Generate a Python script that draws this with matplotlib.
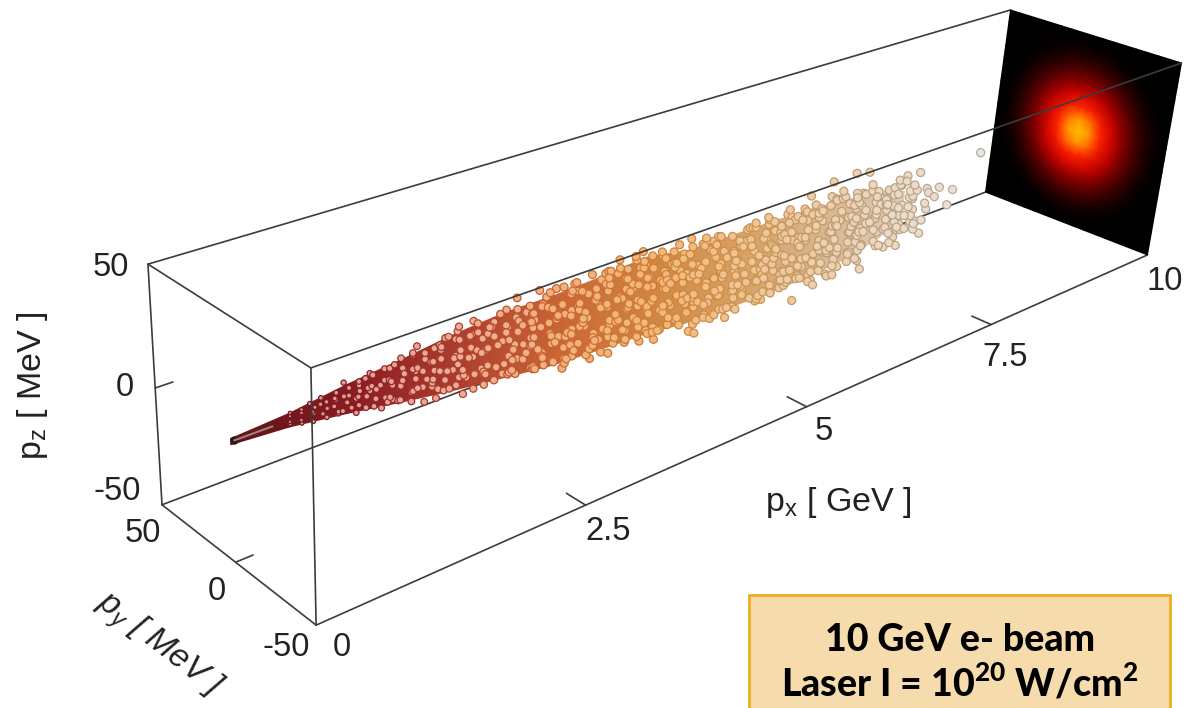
import numpy as np
import matplotlib
matplotlib.use("Agg")
import matplotlib.pyplot as plt
from matplotlib.colors import LinearSegmentedColormap, Normalize
from matplotlib.patches import Rectangle

plt.rcParams["font.family"] = ["Liberation Sans", "DejaVu Sans"]
plt.rcParams["mathtext.fontset"] = "custom"
plt.rcParams["mathtext.rm"] = "Liberation Sans"
plt.rcParams["mathtext.it"] = "Liberation Sans:italic"
plt.rcParams["mathtext.bf"] = "Lato:black"

# box limits and ticks
px_lim = [0, 10]
py_lim = [-50, 50]
pz_lim = [-50, 50]
px_ticks = [2.5, 5, 7.5]
py_ticks = [0]
pz_ticks = [0]

# electrons (px in GeV, pz in MeV)
beam_px = [0.5, 0.6, 0.7, 0.8, 0.9, 1.0, 1.1, 1.2, 1.3, 1.4,
           1.5, 1.6, 1.7, 1.8, 1.9, 2.0, 2.1, 2.2, 2.3, 2.4,
           2.5, 2.6, 2.7, 2.8, 2.9, 3.0, 3.1, 3.2, 3.3, 3.4,
           3.5, 3.6, 3.7, 3.8, 3.9, 4.0, 4.1, 4.2, 4.3, 4.4,
           4.5, 4.6, 4.7, 4.8, 4.9, 5.0, 5.1, 5.2, 5.3, 5.4,
           5.5, 5.6, 5.7, 5.8, 5.9, 6.0, 6.1, 6.2, 6.3, 6.4,
           6.5, 6.6, 6.7, 6.8, 6.9, 7.0, 7.1, 7.2, 7.3, 7.4,
           7.5, 7.6, 7.76, 7.82, 7.97, 8.03, 8.4]
beam_pz = [
    [-2.1, -0.3, 1.4, 2.2],
    [-2.8, -1.0, 0.7, 2.5],
    [-3.4, -1.7, -0.2, 1.6, 3.2],
    [-4.2, -2.4, -0.8, 0.9, 2.6, 4.0],
    [-4.9, -3.0, -1.2, 0.5, 2.3, 3.9, 5.0],
    [-5.6, -3.6, -1.4, 0.4, 2.4, 4.3, 5.8],
    [-6.3, -4.1, -2.2, -0.1, 1.9, 3.7, 6.0],
    [-7.0, -4.8, -2.5, -0.6, 1.6, 3.2, 5.1, 6.9],
    [-7.6, -5.3, -3.1, -1.0, 1.2, 3.4, 5.6, 7.8],
    [-8.5, -6.1, -3.6, -1.3, 0.9, 3.0, 5.8, 8.1],
    [-9.1, -6.4, -3.9, -1.6, 1.1, 3.5, 6.2, 9.2],
    [-9.9, -7.2, -4.5, -2.0, 0.6, 2.9, 5.4, 7.7, 9.8],
    [-10.8, -7.9, -5.2, -2.4, 0.2, 2.7, 5.9, 8.3, 10.3],
    [-11.2, -8.5, -5.6, -2.9, -0.2, 2.3, 5.0, 8.0, 11.1],
    [-11.9, -8.9, -6.1, -3.3, -0.4, 2.8, 5.7, 8.8, 11.6],
    [-12.6, -9.3, -6.4, -3.0, -0.7, 2.1, 4.9, 7.6, 10.2, 12.8],
    [-13.0, -10.1, -7.0, -3.9, -1.0, 1.8, 4.6, 7.9, 10.9, 13.1],
    [-13.9, -10.6, -7.5, -4.4, -1.5, 1.5, 4.3, 7.2, 10.4, 13.5],
    [-14.2, -11.1, -7.8, -4.9, -1.6, 1.2, 4.8, 8.1, 11.2, 14.3],
    [-14.8, -11.7, -8.3, -5.3, -2.2, 0.9, 4.1, 7.4, 10.6, 14.1],
    [-15.3, -12.0, -8.8, -5.4, -2.6, 0.6, 3.8, 7.0, 10.9, 14.9],
    [-15.6, -12.4, -9.1, -5.9, -2.3, 1.0, 4.4, 7.7, 11.3, 15.2],
    [-15.9, -12.9, -9.4, -6.2, -3.1, 0.2, 3.5, 6.9, 10.1, 13.3, 15.8],
    [-16.2, -13.1, -9.8, -6.6, -3.4, -0.1, 3.2, 6.4, 9.6, 12.8, 16.1],
    [-16.4, -13.5, -10.2, -6.9, -3.0, 0.5, 3.9, 7.3, 10.8, 14.0, 16.3],
    [-16.8, -13.7, -10.5, -7.4, -4.0, -0.6, 2.6, 6.1, 9.3, 12.6, 15.9],
    [-17.0, -14.1, -10.9, -7.5, -4.3, -1.0, 2.4, 5.8, 9.0, 12.4, 15.7, 17.2],
    [-16.6, -13.4, -10.0, -6.8, -3.6, -0.3, 3.1, 6.6, 9.9, 13.4, 16.8],
    [-17.1, -14.2, -11.0, -7.7, -4.6, -1.2, 2.0, 5.3, 8.7, 12.0, 15.3, 17.6],
    [-17.3, -13.9, -10.6, -7.2, -3.9, -0.8, 2.7, 6.2, 9.5, 12.9, 16.2],
    [-17.5, -14.4, -11.2, -8.0, -4.7, -1.5, 1.9, 5.1, 8.4, 11.9, 15.0, 17.9],
    [-17.2, -14.0, -10.7, -7.3, -4.1, -0.5, 2.9, 6.3, 9.8, 13.2, 16.6, 18.3],
    [-17.9, -14.7, -11.4, -8.1, -4.8, -1.7, 1.6, 4.9, 8.2, 11.5, 14.8, 18.0],
    [-18.1, -15.0, -11.8, -8.6, -5.2, -2.0, 1.3, 4.7, 8.0, 11.3, 14.6, 17.7, 19.4],
    [-18.3, -15.2, -12.0, -8.7, -5.5, -2.3, 1.1, 4.4, 7.8, 11.1, 14.5, 17.8, 20.1],
    [-18.6, -15.3, -12.3, -9.0, -5.6, -2.4, 0.8, 4.2, 7.5, 10.8, 14.1, 17.2, 20.6],
    [-21.8, -18.9, -15.7, -12.4, -9.2, -5.9, -2.7, 0.6, 3.9, 7.2, 10.5, 13.8, 16.9],
    [-19.2, -16.0, -12.8, -9.5, -6.2, -3.0, 0.3, 3.6, 6.9, 10.2, 13.5, 16.4],
    [-19.6, -16.4, -13.1, -9.8, -6.5, -3.3, 0.1, 3.4, 6.7, 9.9, 13.2, 15.8],
    [-20.1, -16.8, -13.5, -10.2, -6.9, -3.6, -0.2, 3.0, 6.3, 9.6, 12.9, 15.4],
    [-20.7, -17.2, -14.0, -10.6, -7.3, -4.0, -0.7, 2.6, 5.9, 9.2, 12.6, 15.1],
    [-23.9, -21.0, -17.6, -14.3, -11.0, -7.7, -4.4, -1.1, 2.2, 5.5, 8.8, 12.1, 14.9],
    [-21.4, -18.1, -14.8, -11.5, -8.2, -4.9, -1.6, 1.8, 5.1, 8.4, 11.7, 14.6],
    [-23.1, -20.2, -17.4, -14.1, -10.8, -7.5, -4.2, -0.9, 2.4, 5.7, 9.0, 12.3, 14.8],
    [-21.7, -18.4, -15.2, -11.9, -8.6, -5.3, -2.0, 1.3, 4.6, 7.9, 11.2, 14.4],
    [-22.2, -19.0, -15.6, -12.3, -9.0, -5.7, -2.4, 0.9, 4.2, 7.5, 10.8, 14.1],
    [-21.5, -18.6, -15.3, -12.0, -8.7, -5.4, -2.1, 1.2, 4.5, 7.8, 11.1, 14.7],
    [-22.6, -19.4, -16.1, -12.8, -9.5, -6.2, -2.9, 0.4, 3.7, 7.0, 10.3, 13.6],
    [-22.0, -18.8, -15.5, -12.2, -8.9, -5.6, -2.3, 1.0, 4.3, 7.6, 10.9, 14.2],
    [-22.9, -19.7, -16.4, -13.1, -9.8, -6.5, -3.2, 0.1, 3.4, 6.7, 10.0, 13.3],
    [-22.4, -19.2, -15.9, -12.6, -9.3, -6.0, -2.7, 0.6, 3.9, 7.2, 10.5, 13.8, 15.6],
    [-23.2, -20.0, -16.7, -13.4, -10.1, -6.8, -3.5, -0.2, 3.1, 6.4, 9.7, 13.0],
    [-22.7, -19.5, -16.2, -12.9, -9.6, -6.3, -3.0, 0.3, 3.6, 6.9, 10.2, 13.5, 15.9],
    [-27.2, -23.0, -19.9, -16.6, -13.3, -10.0, -6.7, -3.4, -0.1, 3.2, 6.5, 9.8, 13.1],
    [-22.8, -19.6, -16.3, -13.0, -9.7, -6.4, -3.1, 0.2, 3.5, 6.8, 10.1, 13.4],
    [-23.4, -20.3, -17.0, -13.7, -10.4, -7.1, -3.8, -0.5, 2.8, 6.1, 9.4, 12.7, 15.0],
    [-26.0, -22.5, -19.3, -16.0, -12.7, -9.4, -6.1, -2.8, 0.5, 3.8, 7.1, 10.4, 13.7],
    [-23.0, -20.1, -16.9, -13.6, -10.3, -7.0, -3.7, -0.4, 2.9, 6.2, 9.5, 12.8, 19.5],
    [-29.0, -22.1, -18.9, -15.6, -12.3, -9.0, -5.7, -2.4, 0.9, 4.2, 7.5, 10.8, 14.4],
    [-21.6, -18.5, -15.1, -11.8, -8.5, -5.2, -1.9, 1.4, 4.7, 8.0, 11.3],
    [-22.3, -19.1, -15.8, -12.5, -9.1, -5.8, -2.5, 0.8, 4.1, 7.4, 10.7, 13.9],
    [-21.2, -17.9, -14.6, -11.3, -8.0, -4.7, -1.4, 1.9, 5.2, 8.5, 11.8, 19.0],
    [-20.9, -17.5, -14.2, -10.9, -7.6, -4.3, -1.0, 2.3, 5.6, 8.9, 12.2],
    [-20.4, -17.1, -13.8, -10.5, -7.2, -3.9, -0.6, 2.7, 6.0, 9.3, 18.2],
    [-29.0, -19.8, -16.5, -13.2, -9.9, -6.6, -3.3, 0.0, 3.3, 6.6, 9.9],
    [-19.3, -16.0, -12.7, -9.4, -6.1, -2.8, 0.5, 3.8, 7.1, 10.6],
    [-18.8, -15.4, -12.1, -8.8, -5.5, -2.2, 1.1, 4.4, 7.7],
    [-22.0, -17.7, -14.4, -11.1, -7.8, -4.5, -1.2, 2.1, 5.4, 8.6],
    [-17.2, -13.9, -10.6, -7.3, -4.0, -0.7, 2.6, 5.9, 13.0],
    [-21.0, -16.7, -13.0, -9.7, -6.4, -3.1, 0.2, 3.5, 6.8],
    [-20.5, -15.8, -12.0, -7.0, -2.5, 1.5, 4.6, 7.0],
    [-18.0, -14.2, -7.2, -3.0, 2.8],
    [-6.0], [-2.0], [-13.0], [-6.0], [8.0],
]

# scatter of the dots around their column (px in GeV, py and pz in MeV), estimated by eye
scatter_px = [.03, -.05, .01, .06, -.02, -.07, .04, .00, -.04, .07, -.01, .05, -.06, .02, -.03,
              .08, -.08, .03, -.05, .06, .01, -.02, .05, -.07, .04, -.01, -.06, .07, .02, -.04,
              .00, .06, -.03, -.08, .05, .01, -.05, .03, .07, -.02, -.06, .04, -.01, .08, -.04,
              .02, -.07, .05, .00, -.03, .06, -.05, .01, .04, -.08, .07, -.02, .03, -.06, .05]
scatter_py = [2, -3, 1, 4, -2, -4, 3, 0, -3, 3, 1, -2, 5, -4, 2, -1, 4, -3, 5, -1,
              -5, 2, 3, -3, 1, -2, 4, -4, 1, 3, -4, 0, 4, -2, 2, 4, -4, -1, 3, -3,
              1, -5, 3, 4, -1, -3, 1, 2, -2, 4, -4, 2, 0, -4, 5, -2, 3, -1, -3, 1,
              4, -4, 2, -1, 3, -3, 4, 1, -4, 2, -2, 4, -3]
scatter_pz = [.8, -1.1, .3, 1.4, -.6, -1.6, .9, .1, -1.3, 1.2, -.2, .6, -.9, 1.7, -1.5,
              .4, 1.0, -.7, -1.8, 1.5, .2, -1.0, .7, 1.3, -.4, -1.4, 1.1, .5, -.8, 1.6,
              -1.2, .0, 1.9, -.5, -1.7, .6, 1.2, -.3, -1.1, .9, 1.4, -1.9, .3, -.6, 1.0,
              -1.3, 1.8, .2, -.9, .7, -1.6, 1.1, -.1]

# sag of the beam centre against the box axis
sag_px = [0, 1, 1.5, 2.5, 3.3, 4.5, 6.5, 7.5, 9]
sag_pz = [0, 0, -0.8, -1.5, -3.5, -3, -2, -1, 0]

# outline of the dense part of the beam
env_px = [0, 0.5, 1, 1.5, 2, 2.5, 3, 3.5, 4, 4.5, 5, 5.5, 6, 6.5, 7, 7.3]
env_low = [-1.2, -2.8, -6, -9, -12, -14.5, -16, -16.5, -17.5, -20, -21, -21.5, -21.5, -20, -16, -11]
env_high = [1.2, 2.8, 6, 9, 12, 14, 15, 16.5, 18, 14, 13.5, 13, 12, 10, 7, 3]

# quarter of the intensity on the far wall, centre in the corner, steps of 6.25 MeV
wall_step = 6.25
wall_quarter = [
    [1.0, .86, .50, .30, .155, .07, .027, .007, 0],
    [.86, .71, .44, .28, .14, .065, .025, .006, 0],
    [.50, .44, .33, .21, .11, .05, .018, .004, 0],
    [.30, .28, .21, .13, .07, .032, .01, .002, 0],
    [.155, .14, .11, .07, .04, .016, .005, 0, 0],
    [.07, .065, .05, .032, .016, .006, 0, 0, 0],
    [.027, .025, .018, .01, .005, 0, 0, 0, 0],
    [.007, .006, .004, .002, 0, 0, 0, 0, 0],
    [0, 0, 0, 0, 0, 0, 0, 0, 0],
]

# where the 8 box corners sit on the page, used to fit the camera
corners_3d = [[0, 50, 50], [0, 50, -50], [0, -50, 50], [0, -50, -50],
              [10, 50, 50], [10, 50, -50], [10, -50, 50], [10, -50, -50]]
corners_2d = [[148, 264], [162, 505], [311, 368], [316, 625],
              [1010, 10], [986, 192], [1182, 63], [1147, 255]]


def fitCamera(pts3, pts2):
    rows = []
    for (x, y, z), (u, v) in zip(pts3, pts2):
        x, y, z = x / 10, y / 50, z / 50
        rows.append([x, y, z, 1, 0, 0, 0, 0, -u * x, -u * y, -u * z, -u])
        rows.append([0, 0, 0, 0, x, y, z, 1, -v * x, -v * y, -v * z, -v])
    return np.linalg.svd(np.array(rows, float))[2][-1].reshape(3, 4)


cam = fitCamera(corners_3d, corners_2d)


def project(px, py, pz):
    px, py, pz = np.broadcast_arrays(np.asarray(px, float), np.asarray(py, float), np.asarray(pz, float))
    pts = np.stack([px / 10, py / 50, pz / 50, np.ones(px.shape)], axis=-1) @ cam.T
    return pts[..., 0] / pts[..., 2], pts[..., 1] / pts[..., 2]


def edge(ax, a, b, **kw):
    x, y = project([a[0], b[0]], [a[1], b[1]], [a[2], b[2]])
    ax.plot(x, y, color="#3c3c3c", lw=1.2, solid_capstyle="round", **kw)


fig = plt.figure(figsize=(11.95, 7.08), dpi=100)
ax = fig.add_axes([0, 0, 1, 1])
ax.set_xlim(0, 1195)
ax.set_ylim(708, 0)
ax.axis("off")

x0, x1 = px_lim
y0, y1 = py_lim
z0, z1 = pz_lim

# back edges go behind the beam
edge(ax, (x0, y1, z1), (x0, y1, z0), zorder=1)
edge(ax, (x0, y1, z1), (x0, y0, z1), zorder=1)
edge(ax, (x0, y1, z0), (x0, y0, z0), zorder=1)
edge(ax, (x0, y1, z1), (x1, y1, z1), zorder=1)
edge(ax, (x0, y1, z0), (x1, y1, z0), zorder=1)
edge(ax, (x0, y0, z0), (x1, y0, z0), zorder=1)

for t in px_ticks:
    edge(ax, (t, y0, z0), (t, y0 + 11, z0), zorder=1)
for t in py_ticks:
    edge(ax, (x0, t, z0), (x0 + 0.15, t, z0), zorder=1)
for t in pz_ticks:
    edge(ax, (x0, y1, t), (x0 + 0.15, y1, t), zorder=1)

# far wall, the quarter table is mirrored to the full face
half = np.array(wall_quarter)
top = np.hstack([half[:, :0:-1], half])
wall_intensity = np.vstack([top[:0:-1], top])
wall_axis = wall_step * np.arange(-8, 9)
wall_cmap = LinearSegmentedColormap.from_list(
    "wall", [(0, "#000000"), (0.02, "#200000"), (0.08, "#600000"), (0.23, "#c00000"),
             (0.48, "#ff2000"), (0.72, "#ff7000"), (1, "#ffc000")])
wy, wz = np.meshgrid(wall_axis, wall_axis)
wu, wv = project(10, wy, wz)
ax.pcolormesh(wu, wv, wall_intensity, cmap=wall_cmap, vmin=0, vmax=1, shading="gouraud", zorder=2)

# beam colours run from dark red at low energy to pale tan at high energy
rim_cmap = LinearSegmentedColormap.from_list(
    "rim", ["#5e1418", "#8a1c22", "#b04030", "#cc6a34", "#d08038",
            "#cc9450", "#c09c70", "#b8a48c", "#b4aea4"])
core_cmap = LinearSegmentedColormap.from_list(
    "core", ["#c88a8a", "#e0a09a", "#ecae94", "#f2b27c", "#f2b878",
             "#f0c494", "#ecd0ae", "#ecdac6", "#e8e4de"])
fill_cmap = LinearSegmentedColormap.from_list(
    "fill", ["#5e1418", "#8a1c22", "#b04030", "#cc6a34", "#d08a44",
             "#d8a468", "#d8b894", "#e0cdb8", "#e8e4de"])
norm = Normalize(0, 8.4)

ex = np.array(env_px)
ez = np.interp(ex, sag_px, sag_pz)
eu_low, ev_low = project(ex, 0, np.array(env_low) + ez)
eu_high, ev_high = project(ex, 0, np.array(env_high) + ez)
ax.pcolormesh(np.column_stack([eu_low, eu_high]), np.column_stack([ev_low, ev_high]),
              np.column_stack([ex, ex]), cmap=fill_cmap, norm=norm, shading="gouraud", zorder=3)

# pale core of the narrow tip
tu, tv = project([0.03, 0.35], 0, 0)
ax.plot(tu[:1], tv[:1], "o", color="#2a1a1a", ms=5, zorder=3)
ax.plot(tu, tv, color="#a08080", lw=1.5, solid_capstyle="round", zorder=3)

dot_px = np.concatenate([[p] * len(z) for p, z in zip(beam_px, beam_pz)])
dot_pz = np.concatenate(beam_pz)
# thin front of the beam moves less, outliers past 7.6 GeV stay where they were read
spread = np.interp(dot_px, [0.5, 3, 7.6, 7.7], [0.15, 1, 1, 0])
du, dv = project(dot_px + np.resize(scatter_px, dot_px.size) * spread,
                 np.resize(scatter_py, dot_px.size) * spread,
                 dot_pz + np.resize(scatter_pz, dot_px.size) * spread + np.interp(dot_px, sag_px, sag_pz))
sizes = np.interp(dot_px, [0.5, 1, 1.5, 3, 8], [6, 14, 22, 32, 34])
ax.scatter(du, dv, s=sizes, c=core_cmap(norm(dot_px)), edgecolors=rim_cmap(norm(dot_px)), linewidths=0.9, zorder=4)

# front edges stay on top
edge(ax, (x0, y0, z1), (x0, y0, z0), zorder=6)
edge(ax, (x0, y0, z1), (x1, y0, z1), zorder=6)

tick_size = 23.5
label_size = 24.5
tick_texts = [("50", 111, 268), ("0", 125, 387), ("-50", 117, 491),
              ("50", 143, 534), ("0", 217, 592), ("-50", 286, 648),
              ("0", 342, 648), ("2.5", 608, 531), ("5", 824, 432),
              ("7.5", 1005, 357), ("10", 1165, 282)]
for label, tx, ty in tick_texts:
    ax.text(tx, ty, label, fontsize=tick_size, ha="center", va="center", color="#222222")

ax.text(838, 503, r"$\mathrm{p_x}$ [ GeV ]", fontsize=label_size, ha="center", va="center", color="#222222")
ax.text(33, 386, r"$\mathrm{p_z}$ [ MeV ]", fontsize=label_size, rotation=90, ha="center", va="center", color="#222222")
ax.text(159, 646, r"$\mathit{p_y}$ [ MeV ]", fontsize=24, rotation=-38, style="italic",
        ha="center", va="center", color="#222222", rotation_mode="anchor")

# note box
ax.add_patch(Rectangle((749, 595), 421, 130, facecolor="#F6DCAD", edgecolor="#EFAE1E", lw=2, zorder=7))
ax.text(960, 640, "10 GeV e- beam", family="Lato", weight="black", fontsize=27, ha="center", va="center", zorder=8)
ax.text(960, 682, r"Laser I = 10$^{\mathbf{20}}$ W/cm$^{\mathbf{2}}$", family="Lato", weight="black",
        fontsize=27, ha="center", va="center", zorder=8)

fig.savefig("out.png", dpi=100)
